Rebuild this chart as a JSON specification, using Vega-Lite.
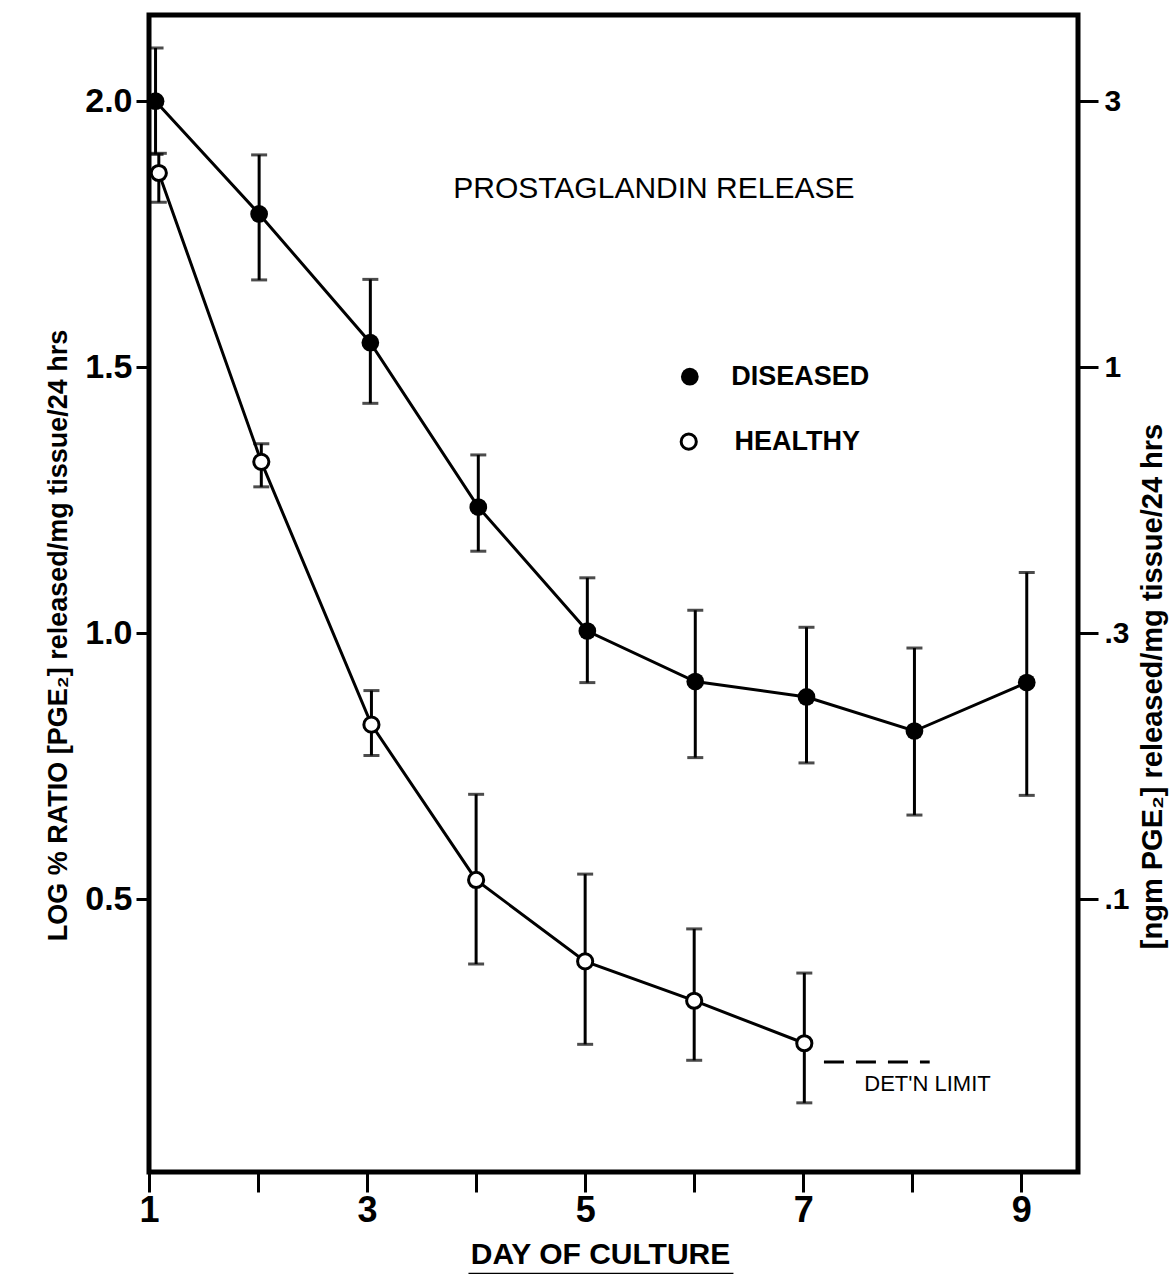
{
  "$schema": "https://vega.github.io/schema/vega-lite/v6.json",
  "width": 929,
  "height": 1157,
  "autosize": {"type": "none"},
  "padding": {"left": 149, "top": 15, "right": 95, "bottom": 102},
  "background": "white",
  "config": {
    "view": {"stroke": "black", "strokeWidth": 5},
    "axis": {"grid": false, "domain": false, "tickColor": "black", "labelColor": "black", "titleColor": "black", "labelFont": "Liberation Sans", "titleFont": "Liberation Sans", "labelFlush": false, "labelOverlap": false}
  },
  "data": {
    "values": [
      {"group": "DISEASED", "day": 1.06, "val": 2.0, "lo": 1.9, "hi": 2.1},
      {"group": "DISEASED", "day": 2.01, "val": 1.788, "lo": 1.664, "hi": 1.899},
      {"group": "DISEASED", "day": 3.03, "val": 1.546, "lo": 1.432, "hi": 1.665},
      {"group": "DISEASED", "day": 4.02, "val": 1.237, "lo": 1.154, "hi": 1.335},
      {"group": "DISEASED", "day": 5.02, "val": 1.004, "lo": 0.907, "hi": 1.104},
      {"group": "DISEASED", "day": 6.01, "val": 0.909, "lo": 0.766, "hi": 1.043},
      {"group": "DISEASED", "day": 7.03, "val": 0.88, "lo": 0.756, "hi": 1.011},
      {"group": "DISEASED", "day": 8.02, "val": 0.816, "lo": 0.658, "hi": 0.972},
      {"group": "DISEASED", "day": 9.05, "val": 0.907, "lo": 0.695, "hi": 1.114},
      {"group": "HEALTHY", "day": 1.09, "val": 1.865, "lo": 1.81, "hi": 1.902},
      {"group": "HEALTHY", "day": 2.03, "val": 1.322, "lo": 1.275, "hi": 1.356},
      {"group": "HEALTHY", "day": 3.04, "val": 0.828, "lo": 0.77, "hi": 0.892},
      {"group": "HEALTHY", "day": 4.0, "val": 0.536, "lo": 0.378, "hi": 0.697},
      {"group": "HEALTHY", "day": 5.0, "val": 0.383, "lo": 0.227, "hi": 0.547},
      {"group": "HEALTHY", "day": 6.0, "val": 0.309, "lo": 0.197, "hi": 0.444},
      {"group": "HEALTHY", "day": 7.01, "val": 0.229, "lo": 0.117, "hi": 0.361}
    ]
  },
  "layer": [
    {
      "layer": [
        {
          "mark": {"type": "errorbar", "color": "black", "ticks": {"size": 16, "thickness": 3, "color": "black"}, "rule": {"strokeWidth": 3, "color": "black"}},
          "encoding": {
            "x": {"field": "day", "type": "quantitative", "title": "DAY OF CULTURE",
              "scale": {"domain": [1, 9.52], "nice": false, "zero": false},
              "axis": {"values": [1, 2, 3, 4, 5, 6, 7, 8, 9], "format": "d", "labelExpr": "datum.value % 2 == 1 ? datum.label : ''", "labelFontSize": 36, "labelFontWeight": "bold", "tickSize": 20, "tickWidth": 3, "labelPadding": 1, "titleFontSize": 30, "titleFontWeight": "bold", "titleX": 451, "titleY": 82, "titleAlign": "center", "titleBaseline": "middle"}},
            "y": {"field": "lo", "type": "quantitative", "title": "LOG % RATIO [PGE₂] released/mg tissue/24 hrs",
              "scale": {"domain": [-0.013, 2.162], "nice": false, "zero": false},
              "axis": {"orient": "left", "values": [0.5, 1, 1.5, 2], "format": ".1f", "labelFontSize": 34, "labelFontWeight": "bold", "tickSize": 13, "tickWidth": 3, "labelPadding": 4, "titleFontSize": 27, "titleFontWeight": "bold", "titleAngle": 270, "titleX": -91, "titleY": 620, "titleAlign": "center", "titleBaseline": "middle"}},
            "y2": {"field": "hi"}
          }
        },
        {
          "mark": {"type": "line", "color": "black", "strokeWidth": 3},
          "encoding": {
            "x": {"field": "day", "type": "quantitative", "title": "DAY OF CULTURE"},
            "y": {"field": "val", "type": "quantitative", "title": "LOG % RATIO [PGE₂] released/mg tissue/24 hrs"},
            "detail": {"field": "group"}
          }
        },
        {
          "transform": [{"filter": "datum.group == 'DISEASED'"}],
          "mark": {"type": "point", "shape": "circle", "filled": true, "color": "black", "size": 314, "opacity": 1},
          "encoding": {
            "x": {"field": "day", "type": "quantitative", "title": "DAY OF CULTURE"},
            "y": {"field": "val", "type": "quantitative", "title": "LOG % RATIO [PGE₂] released/mg tissue/24 hrs"}
          }
        },
        {
          "transform": [{"filter": "datum.group == 'HEALTHY'"}],
          "mark": {"type": "point", "shape": "circle", "filled": false, "fill": "white", "fillOpacity": 1, "stroke": "black", "strokeWidth": 3, "size": 230, "opacity": 1},
          "encoding": {
            "x": {"field": "day", "type": "quantitative", "title": "DAY OF CULTURE"},
            "y": {"field": "val", "type": "quantitative", "title": "LOG % RATIO [PGE₂] released/mg tissue/24 hrs"}
          }
        },
        {
          "data": {"values": [{}]},
          "mark": {"type": "text", "text": "PROSTAGLANDIN RELEASE", "font": "Liberation Sans", "fontSize": 30, "align": "center", "baseline": "middle", "color": "black"},
          "encoding": {"x": {"datum": 5.63, "type": "quantitative"}, "y": {"datum": 1.835, "type": "quantitative"}}
        },
        {
          "data": {"values": [{}]},
          "mark": {"type": "point", "shape": "circle", "filled": true, "color": "black", "size": 314, "opacity": 1},
          "encoding": {"x": {"datum": 5.96, "type": "quantitative"}, "y": {"datum": 1.482, "type": "quantitative"}}
        },
        {
          "data": {"values": [{}]},
          "mark": {"type": "point", "shape": "circle", "filled": false, "fill": "white", "fillOpacity": 1, "stroke": "black", "strokeWidth": 3, "size": 230, "opacity": 1},
          "encoding": {"x": {"datum": 5.95, "type": "quantitative"}, "y": {"datum": 1.36, "type": "quantitative"}}
        },
        {
          "data": {"values": [{}]},
          "mark": {"type": "text", "text": "DISEASED", "font": "Liberation Sans", "fontSize": 27, "fontWeight": "bold", "align": "left", "baseline": "middle", "color": "black"},
          "encoding": {"x": {"datum": 6.34, "type": "quantitative"}, "y": {"datum": 1.482, "type": "quantitative"}}
        },
        {
          "data": {"values": [{}]},
          "mark": {"type": "text", "text": "HEALTHY", "font": "Liberation Sans", "fontSize": 27, "fontWeight": "bold", "align": "left", "baseline": "middle", "color": "black"},
          "encoding": {"x": {"datum": 6.37, "type": "quantitative"}, "y": {"datum": 1.36, "type": "quantitative"}}
        },
        {
          "data": {"values": [{}]},
          "mark": {"type": "rule", "color": "black", "strokeWidth": 3, "strokeDash": [20, 12]},
          "encoding": {"x": {"datum": 7.19, "type": "quantitative"}, "x2": {"datum": 8.16}, "y": {"datum": 0.194, "type": "quantitative"}}
        },
        {
          "data": {"values": [{}]},
          "mark": {"type": "text", "text": "DET'N  LIMIT", "font": "Liberation Sans", "fontSize": 22, "align": "left", "baseline": "middle", "color": "black"},
          "encoding": {"x": {"datum": 7.56, "type": "quantitative"}, "y": {"datum": 0.153, "type": "quantitative"}}
        },
        {
          "data": {"values": [{}]},
          "mark": {"type": "rule", "color": "black", "strokeWidth": 3},
          "encoding": {"x": {"datum": 3.93, "type": "quantitative"}, "x2": {"datum": 6.36}, "y": {"datum": -0.205, "type": "quantitative"}}
        }
      ]
    },
    {
      "data": {"values": [{}]},
      "mark": {"type": "point", "opacity": 0},
      "encoding": {
        "x": {"datum": 5, "type": "quantitative"},
        "y": {"datum": 1, "type": "quantitative",
          "scale": {"domain": [-0.013, 2.162], "nice": false, "zero": false},
          "axis": {"orient": "right", "title": "[ngm PGE₂] released/mg tissue/24 hrs", "values": [0.5, 1, 1.5, 2], "labelExpr": "datum.value == 2 ? '3' : datum.value == 1.5 ? '1' : datum.value == 1 ? '.3' : '.1'", "labelFontSize": 30, "labelFontWeight": "bold", "tickSize": 20, "tickWidth": 3, "labelPadding": 6, "titleFontSize": 29, "titleFontWeight": "bold", "titleAngle": 270, "titleX": 74, "titleY": 671, "titleAlign": "center", "titleBaseline": "middle"}}
      }
    }
  ],
  "resolve": {"scale": {"y": "independent"}}
}
